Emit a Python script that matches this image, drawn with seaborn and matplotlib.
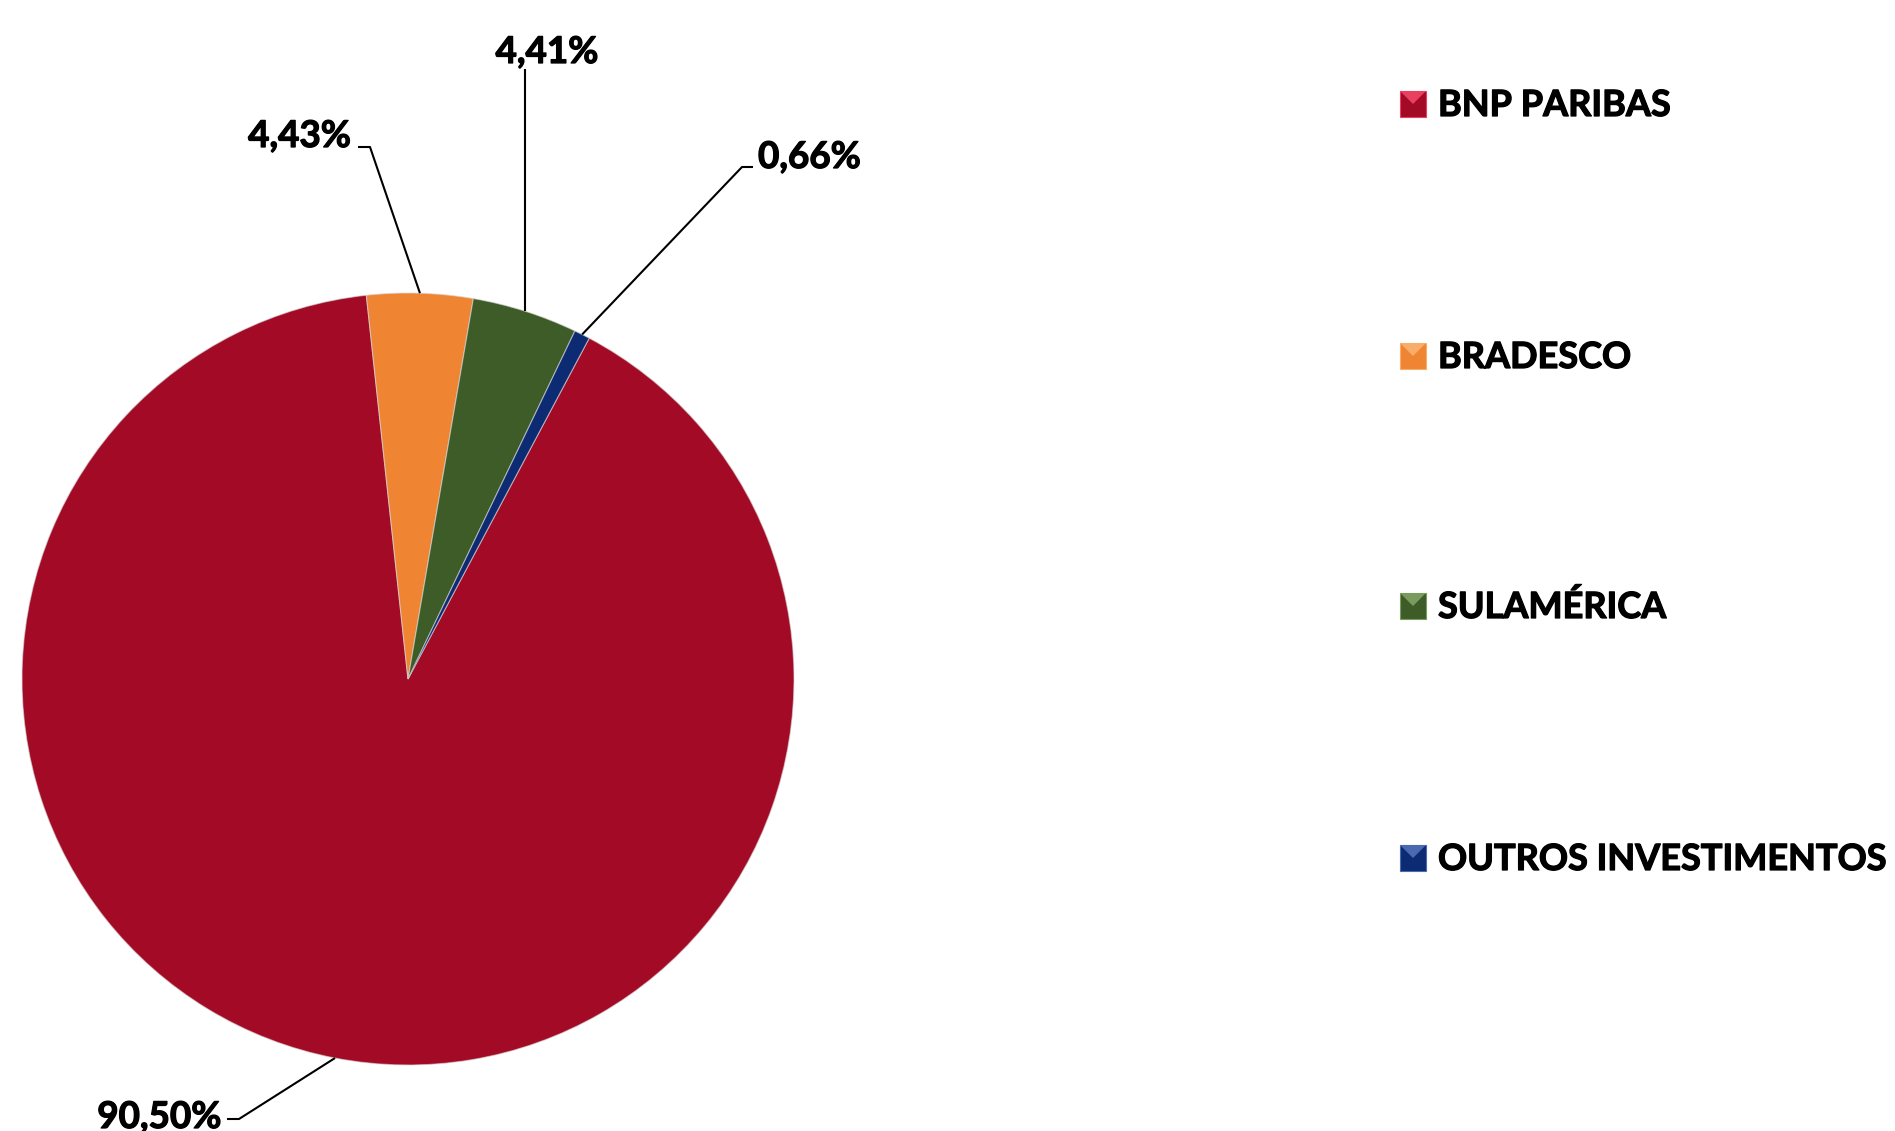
import matplotlib
matplotlib.use("Agg")
import matplotlib.pyplot as plt
import matplotlib.patheffects as pe
from matplotlib.patches import Rectangle, Polygon
import numpy as np
import seaborn as sns

# data
labels = ["BNP PARIBAS", "BRADESCO", "SULAMÉRICA", "OUTROS INVESTIMENTOS"]
shares = [90.50, 4.43, 4.41, 0.66]
share_text = ["90,50%", "4,43%", "4,41%", "0,66%"]
colors = ["#A30A25", "#EF8433", "#3E5C27", "#0D2B73"]
light = ["#E8405E", "#F8AE6A", "#7A9A5E", "#4A6AB0"]

sns.set_style("white")
plt.rcParams["font.family"] = ["Lato", "DejaVu Sans"]

W, H = 1895, 1131
fig = plt.figure(figsize=(W / 100, H / 100), dpi=100)
ax = fig.add_axes([0, 0, 1, 1])


def py(y):
    # pixel row (top origin) -> data y
    return H - y


cx, cy, R = 408, py(679), 386
wedges, _ = ax.pie(shares, colors=colors, startangle=62, counterclock=False,
                   center=(cx, cy), radius=R, frame=True,
                   wedgeprops=dict(edgecolor=(0.85, 0.85, 0.85, 0.6), linewidth=0.8))
ax.set_xlim(0, W)
ax.set_ylim(0, H)
ax.set_aspect("equal")
ax.axis("off")

bold = [pe.withStroke(linewidth=0.9, foreground="black")]

# label layout: text pos, alignment, line points after the anchor (pixel coords)
layout = [
    dict(xy=(221, 1128), ha="right", pts=[(239, 1119), (227, 1119)]),
    dict(xy=(351, 147), ha="right", pts=[(370, 147), (358, 147)]),
    dict(xy=(547, 63), ha="center", pts=[None]),
    dict(xy=(758, 168), ha="left", pts=[(742, 167), (753, 167)]),
]

for w, txt, lay in zip(wedges, share_text, layout):
    mid = np.deg2rad((w.theta1 + w.theta2) / 2)
    ax_, ay_ = cx + R * np.cos(mid), cy + R * np.sin(mid)
    xs, ys = [ax_], [ay_]
    for p in lay["pts"]:
        if p is None:
            xs.append(ax_)
            ys.append(py(69))
        else:
            xs.append(p[0])
            ys.append(py(p[1]))
    ax.plot(xs, ys, color="black", lw=1.5, solid_capstyle="butt")
    ax.text(lay["xy"][0], py(lay["xy"][1]), txt, ha=lay["ha"], va="baseline",
            fontsize=26.5, fontweight="bold", color="black", path_effects=bold)

# legend
leg_base = [116, 368, 618, 870]
for lab, col, lc, yb in zip(labels, colors, light, leg_base):
    x0, y0, s = 1400, py(yb + 1), 26
    ax.add_patch(Rectangle((x0, y0), s, s, facecolor=col, edgecolor=lc, lw=0.8))
    ax.add_patch(Polygon([(x0 + 1, y0 + s - 1), (x0 + s - 1, y0 + s - 1), (x0 + s / 2, y0 + s / 2)],
                         closed=True, facecolor=lc, edgecolor="none"))
    ax.text(1438, py(yb), lab, ha="left", va="baseline",
            fontsize=26, fontweight="bold", color="black", path_effects=bold)

fig.savefig("out.png", dpi=100)
